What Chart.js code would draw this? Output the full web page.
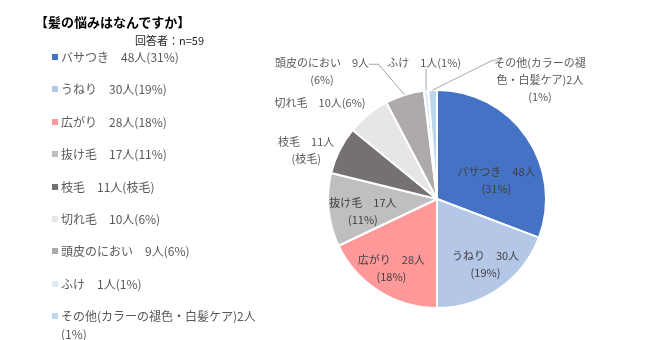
<!DOCTYPE html>
<html>
<head>
<meta charset="utf-8">
<script src="https://cdn.jsdelivr.net/npm/chart.js@4"></script>
<style>
  html, body { margin: 0; padding: 0; background: #fff; }
  body { width: 650px; height: 340px; position: relative; overflow: hidden;
         font-family: "Noto Sans CJK JP", sans-serif; }
  #chartBox { position: absolute; left: 0; top: 0; width: 650px; height: 340px; }
  .title { position: absolute; left: 35px; top: 12px; font-size: 13px; font-weight: bold; color: #000; white-space: nowrap; }
  .sub { position: absolute; left: 135px; top: 32px; font-size: 11px; color: #262626; white-space: nowrap; }
  #legend { position: absolute; left: 52px; top: 48px; margin: 0; padding: 0; list-style: none; }
  #legend li { display: flex; align-items: flex-start; height: 32.4px; font-size: 12px; line-height: 18px; color: #595959; }
  #legend .box { width: 6px; height: 6px; margin: 6px 3px 0 0; flex: none; }
  #legend .txt { width: 205px; }
</style>
</head>
<body>
<div id="chartBox"><canvas id="hairChart"></canvas></div>
<div class="title">【髪の悩みはなんですか】</div>
<div class="sub">回答者：n=59</div>
<ul id="legend"></ul>
<script>
// categories and answers
const categories = ['バサつき', 'うねり', '広がり', '抜け毛', '枝毛', '切れ毛', '頭皮のにおい', 'ふけ', 'その他(カラーの褪色・白髪ケア)'];
const counts = [48, 30, 28, 17, 11, 10, 9, 1, 2];
const pctLabels = ['31%', '19%', '18%', '11%', '枝毛', '6%', '6%', '1%', '1%'];
const colors = ['#4472C4', '#B4C7E7', '#FF9999', '#BFBFBF', '#767171', '#E7E6E6', '#AEAAAA', '#DEEBF7', '#BDD7EE'];

// text of the data labels on the pie
const pieLabels = [
    ['バサつき　48人', '(31%)'],
    ['うねり　30人', '(19%)'],
    ['広がり　28人', '(18%)'],
    ['抜け毛　17人', '(11%)'],
    ['枝毛　11人', '(枝毛)'],
    ['切れ毛　10人(6%)'],
    ['頭皮のにおい　9人', '(6%)'],
    ['ふけ　1人(1%)'],
    ['その他(カラーの褪', '色・白髪ケア)2人', '(1%)']
];

// label layout, offsets from pie centre in units of radius
const labelPos = [
    [0.545, -0.168], [0.445, 0.60], [-0.418, 0.632], [-0.68, 0.11],
    [-1.2, -0.45], [-1.073, -0.882], [-1.055, -1.168], [-0.118, -1.245], [0.945, -1.09]
];
const labelInside = [true, true, true, true, false, false, false, false, false];
// leader line end points (same units), null = no line
const leaders = [null, null, null, null, null, null,
    [[-0.536, -1.236], [-0.627, -1.236]],
    [[-0.1, -1.19]],
    [[0.51, -1.273], [0.56, -1.273]]];

// html legend
const legendEl = document.getElementById('legend');
categories.forEach((c, i) => {
    const sep = c.endsWith(')') ? '' : '\u3000';
    const li = document.createElement('li');
    li.innerHTML = '<span class="box" style="background:' + colors[i] + '"></span>' +
        '<span class="txt">' + c + sep + counts[i] + '人(' + pctLabels[i] + ')</span>';
    legendEl.appendChild(li);
});

const pieLabelPlugin = {
    id: 'pieLabels',
    afterDatasetsDraw(chart) {
        const ctx = chart.ctx;
        const meta = chart.getDatasetMeta(0);
        ctx.save();
        ctx.font = '11px "Noto Sans CJK JP"';
        ctx.textAlign = 'center';
        ctx.textBaseline = 'middle';
        meta.data.forEach((arc, i) => {
            const p = arc.getProps(['x', 'y', 'outerRadius', 'startAngle', 'endAngle'], true);
            const r = p.outerRadius;
            if (leaders[i]) {
                const mid = (p.startAngle + p.endAngle) / 2;
                ctx.strokeStyle = '#A6A6A6';
                ctx.lineWidth = 1;
                ctx.beginPath();
                ctx.moveTo(p.x + Math.cos(mid) * r, p.y + Math.sin(mid) * r);
                leaders[i].forEach(pt => ctx.lineTo(p.x + pt[0] * r, p.y + pt[1] * r));
                ctx.stroke();
            }
            const lines = pieLabels[i];
            const lh = 17;
            const cx = p.x + labelPos[i][0] * r;
            const cy = p.y + labelPos[i][1] * r;
            ctx.fillStyle = labelInside[i] ? '#404040' : '#595959';
            lines.forEach((t, k) => {
                ctx.fillText(t, cx, cy + (k - (lines.length - 1) / 2) * lh);
            });
        });
        ctx.restore();
    }
};

const chart = new Chart(document.getElementById('hairChart'), {
    type: 'pie',
    data: {
        labels: categories,
        datasets: [{
            data: counts,
            backgroundColor: colors,
            borderColor: '#ffffff',
            borderWidth: 2
        }]
    },
    options: {
        responsive: true,
        maintainAspectRatio: false,
        animation: false,
        layout: { padding: { left: 327, right: 103, top: 89, bottom: 31 } },
        plugins: {
            legend: { display: false },
            tooltip: { enabled: false }
        }
    },
    plugins: [pieLabelPlugin]
});
</script>
</body>
</html>
